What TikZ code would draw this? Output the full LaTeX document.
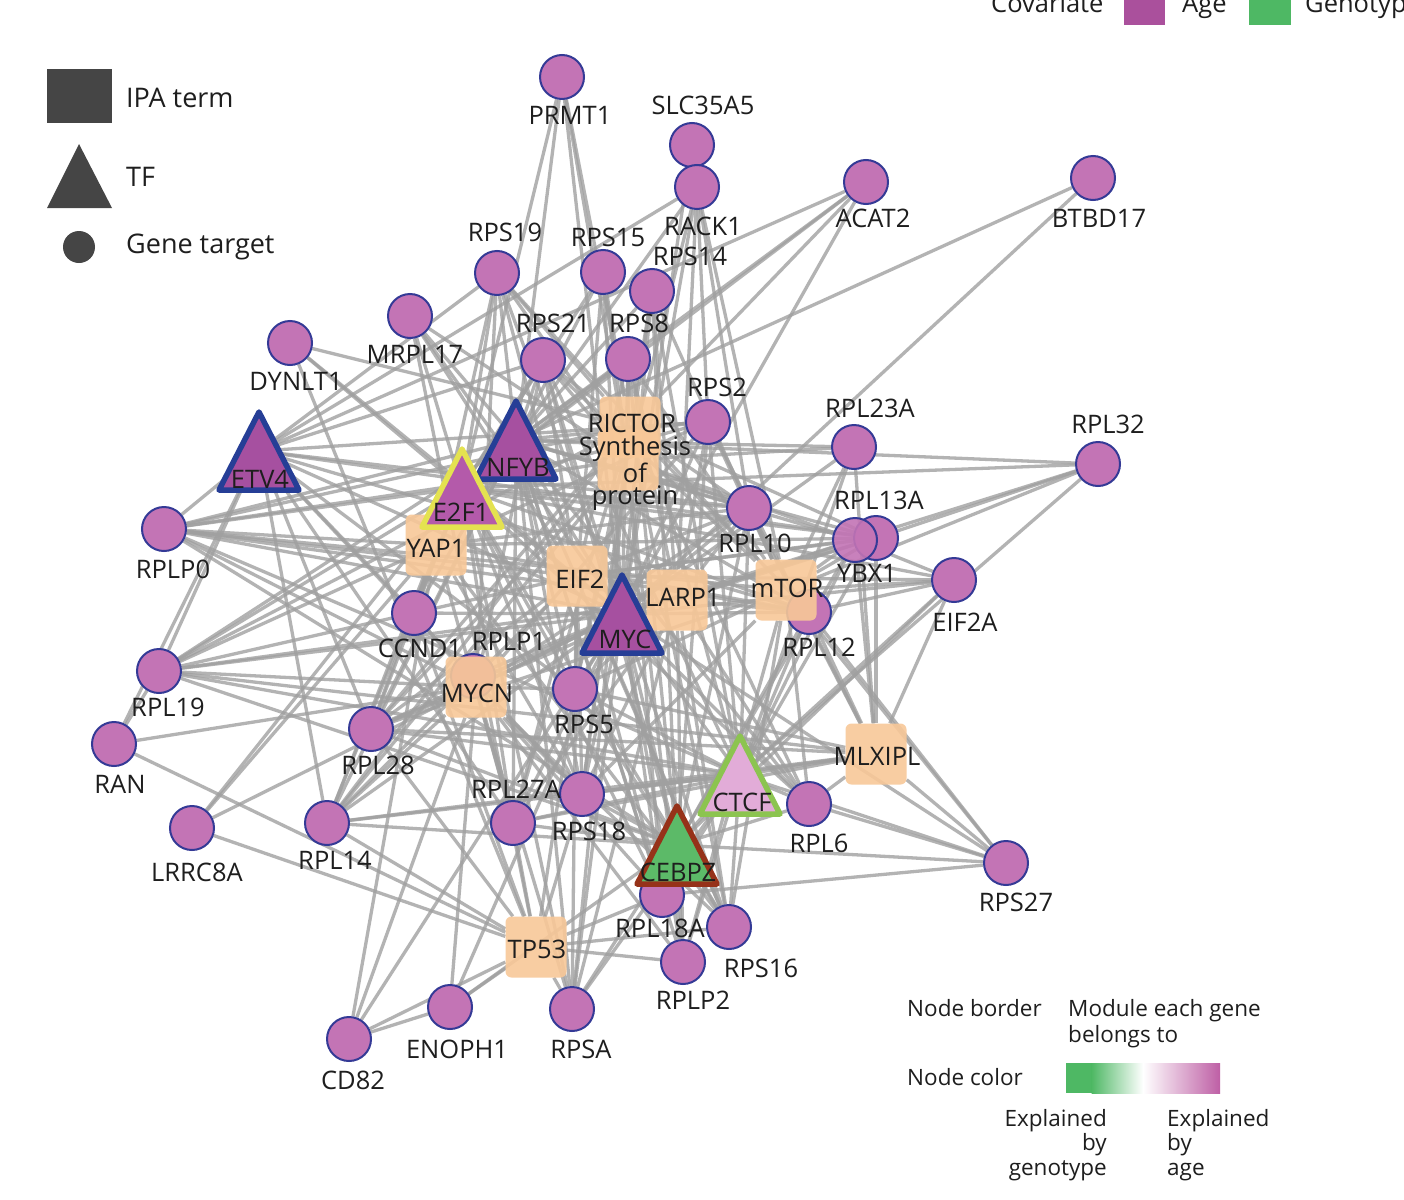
\documentclass[tikz,border=0pt]{standalone}
\usepackage{fontspec}
\setmainfont{Open Sans}
\pgfdeclarelayer{bg}
\pgfdeclarelayer{edges}
\pgfsetlayers{bg,edges,main}
\definecolor{genefill}{RGB}{195,116,181}
\definecolor{genebd}{RGB}{52,58,150}
\definecolor{tfage}{RGB}{166,80,160}
\definecolor{tfe2f}{RGB}{180,90,170}
\definecolor{tfblue}{RGB}{38,62,150}
\definecolor{tfyel}{RGB}{228,226,80}
\definecolor{ctcffill}{RGB}{226,172,216}
\definecolor{ctcfbd}{RGB}{140,196,80}
\definecolor{cebfill}{RGB}{92,186,104}
\definecolor{cebbd}{RGB}{150,50,25}
\definecolor{ipafill}{RGB}{248,200,152}
\definecolor{edgec}{RGB}{160,160,160}
\definecolor{legdark}{RGB}{69,69,69}
\definecolor{agec}{RGB}{170,80,156}
\definecolor{genoc}{RGB}{78,184,100}
\definecolor{agegrad}{RGB}{190,95,165}
\definecolor{txtc}{RGB}{30,30,30}
\newcommand\tfdraw[5]{%
  \coordinate (#1) at (#2,#3);
  \draw[shift={(#1)}, line width=5.5, line join=round, draw=#5, fill=#4] (-40,39) -- (0,-39) -- (40,39) -- cycle;}
\begin{document}
\begin{tikzpicture}[x=1pt,y=-1pt,
  genenode/.style={circle, draw=genebd, fill=genefill, line width=2, minimum size=44, inner sep=0},
  ipabox/.style={rectangle, rounded corners=6, fill=ipafill, fill opacity=0.9, minimum size=61, inner sep=0},
  lab/.style={font=\fontsize{25.5}{28}\selectfont, text=txtc, inner sep=0},
  legtxt/.style={font=\fontsize{27}{30}\selectfont, text=txtc, inner sep=0},
  legsmall/.style={font=\fontsize{22.5}{25}\selectfont, text=txtc, inner sep=0},
  edgeline/.style={draw=edgec, line width=3.3, draw opacity=0.8}]
\useasboundingbox (0,0) rectangle (1404,1199);
\begin{pgfonlayer}{bg}
\fill[white] (0,0) rectangle (1404,1199);
\end{pgfonlayer}

% ---------- gene targets ----------
\node[genenode] (prmt) at (562,77) {};
\node[genenode] (slc) at (692,145) {};
\node[genenode] (rack) at (697,187) {};
\node[genenode] (rps19) at (497,273) {};
\node[genenode] (rps15) at (603,272) {};
\node[genenode] (rps14) at (652,291) {};
\node[genenode] (acat) at (866,182) {};
\node[genenode] (btbd) at (1093,178) {};
\node[genenode] (mrpl) at (410,316) {};
\node[genenode] (dynlt) at (290,343) {};
\node[genenode] (rps21) at (543,360) {};
\node[genenode] (rps8) at (628,359) {};
\node[genenode] (rps2) at (708,422) {};
\node[genenode] (rpl23a) at (854,447) {};
\node[genenode] (rpl32) at (1098,464) {};
\node[genenode] (rpl10) at (749,508) {};
\node[genenode] (rpl13a) at (876,538) {};
\node[genenode, fill opacity=0.9] (ybx) at (855,540) {};
\node[genenode] (eif2a) at (954,580) {};
\node[genenode] (rpl12) at (809,612) {};
\node[genenode] (rplp0) at (164,529) {};
\node[genenode] (ccnd) at (414,613) {};
\node[genenode] (rplp1) at (473,676) {};
\node[genenode] (rpl19) at (159,671) {};
\node[genenode] (ran) at (114,744) {};
\node[genenode] (rpl28) at (371,729) {};
\node[genenode] (rps5) at (575,689) {};
\node[genenode] (lrrc) at (192,828) {};
\node[genenode] (rpl14) at (327,823) {};
\node[genenode] (rpl27a) at (513,823) {};
\node[genenode] (rps18) at (582,794) {};
\node[genenode] (rpl6) at (809,804) {};
\node[genenode] (rps27) at (1006,863) {};
\node[genenode] (rpl18a) at (662,895) {};
\node[genenode] (rps16) at (729,927) {};
\node[genenode] (rplp2) at (683,962) {};
\node[genenode] (enoph) at (450,1007) {};
\node[genenode] (rpsa) at (572,1009) {};
\node[genenode] (cd82) at (349,1039) {};

% ---------- IPA terms ----------
\node[ipabox] (rictor) at (630,427) {};
\node[ipabox] (synth) at (628,460) {};
\node[ipabox] (yap) at (436,545) {};
\node[ipabox] (eif2) at (577,576) {};
\node[ipabox] (larp) at (677,600) {};
\node[ipabox] (mtor) at (786,590) {};
\node[ipabox] (mycn) at (476,687) {};
\node[ipabox] (mlxipl) at (876,754) {};
\node[ipabox] (tp53) at (536,947) {};

% ---------- TFs ----------
\tfdraw{etv4}{259}{451}{tfage}{tfblue}
\tfdraw{nfyb}{516}{440}{tfage}{tfblue}
\tfdraw{e2f1}{462}{488}{tfe2f}{tfyel}
\tfdraw{myc}{622}{614}{tfage}{tfblue}
\tfdraw{ctcf}{740}{775}{ctcffill}{ctcfbd}
\tfdraw{cebpz}{677}{845}{cebfill}{cebbd}

% ---------- edges ----------
\begin{pgfonlayer}{edges}
\foreach \h/\lst in {
 myc/{prmt,slc,rack,rps19,rps15,rps14,acat,btbd,mrpl,dynlt,rps21,rps8,rps2,rpl23a,rpl10,rpl13a,ybx,eif2a,rpl12,rplp0,ccnd,rplp1,rpl19,rpl28,rps5,lrrc,rpl14,rpl27a,rps18,rpl6,rps27,rpl18a,rps16,rplp2,enoph,rpsa,cd82},
 nfyb/{prmt,rack,rps19,rps15,rps14,acat,btbd,mrpl,rps21,rps8,rps2,rpl23a,rpl10,rpl13a,ybx,rpl12,rplp0,ccnd,rpl19,rpl28,rps5,rpl14,rpl27a,rps18,rpl6,rpl18a,rps16,rplp2,rpsa,rpl32},
 e2f1/{prmt,rps19,rps15,acat,mrpl,dynlt,rps21,rps8,rps2,rpl10,rpl13a,rpl12,rplp0,ccnd,rpl19,rpl28,rps5,lrrc,rpl14,rpl27a,rps18,rpl6,rpl18a,rps16,rpsa,rpl32,eif2a},
 etv4/{rack,rplp0,rpl19,ran,rpl28,rpl14,rps21,rps19,rps5,rpl10,rpl13a,rps18,rpl27a,rps2,ccnd,rpl12,acat},
 ctcf/{rps2,rps8,rps21,rpl23a,rpl10,rpl13a,ybx,eif2a,rpl12,rplp0,rpl19,rpl28,rps5,rpl14,rpl27a,rps18,rpl6,rps27,rpl18a,rps16,rplp2,rpsa,rpl32,rps14},
 cebpz/{rps14,rps8,rps21,rps2,rpl10,ybx,rpl12,rplp0,rpl19,rpl28,rps5,rpl14,rpl27a,rps18,rpl6,rps27,rpl18a,rps16,rplp2,rpsa,enoph,eif2a},
 rictor/{prmt,acat,dynlt,rps19,rps15,rps14,rps21,rps8,rps2,rpl10,rpl13a,rpl12,rps5,rps18,rpl27a,rpl28,rpl14,rplp0,rpl19,rpsa,rpl6,rps16},
 synth/{prmt,rack,mrpl,rps19,rps15,rps14,rps21,rps8,rpl23a,rpl10,ybx,rps5,rpl18a,rplp2,rpl14,rplp0,rpl28,rps18},
 yap/{rps19,rps21,rplp0,rpl19,rpl28,rpl14,ccnd,rps18,rpl27a,cd82,lrrc,rps2,rpl10,rpl13a,rpl12,rps16},
 eif2/{mrpl,rps19,rps21,rps8,rps15,rpl10,rpl13a,ybx,rpl12,rplp0,rpl19,rpl28,rps5,rps18,rpl27a,rpl14,rpl18a,rps16,rpsa,eif2a},
 larp/{rps8,rps14,rps2,rack,rpl10,rpl13a,ybx,rpl12,rps5,rps18,rpl27a,rpl28,rpl19,rplp0,rpl6,rps16,rplp2,rpsa},
 mtor/{rpl32,ybx,rpl13a,eif2a,rpl23a,rps2,rps8,rps14,rack,rps21,rps19,rpl10,rps5,rps18,rpl6,rps27,rplp2,rps16,rpl28,rplp0},
 mycn/{ccnd,rplp1,rpl19,ran,rpl28,rpl14,rps5,rpl27a,rps18,rpl18a,rps16,rplp2,rpsa,enoph,cd82,rplp0,rps21,rps19,rpl10,rps2},
 mlxipl/{rpl6,rps27,rpl12,ybx,rpl13a,eif2a,rps2,rpl10,rps18,rpl27a,rps5,rpl28,rpl14,rpl19,rpl23a},
 tp53/{enoph,cd82,rpsa,ran,rplp2,rpl18a,rps16,rps18,rpl27a,rpl14,rpl28,ccnd,rps5,mrpl,dynlt,lrrc},
 rpl32/{ybx,rpl13a},
 eif2a/{ybx,rpl12},
 rps27/{rpl6,rpl12,rpl18a},
 ran/{rpl19},
 cd82/{enoph},
 rack/{slc,rps2,rpl10},
 myc/{nfyb,e2f1,etv4,ctcf,cebpz,mycn,eif2,larp},
 nfyb/{e2f1},
 ctcf/{cebpz,mlxipl},
 e2f1/{yap}}
 {\foreach \t in \lst {\draw[edgeline] (\h) -- (\t);}}
\end{pgfonlayer}

% ---------- labels ----------
\node[lab] (l-prmt) at (570,115) {PRMT1};
\node[lab] (l-slc) at (703,105) {SLC35A5};
\node[lab] (l-rack) at (703,226) {RACK1};
\node[lab] (l-rps19) at (505,232) {RPS19};
\node[lab] (l-rps15) at (608,237) {RPS15};
\node[lab] (l-rps14) at (690,256) {RPS14};
\node[lab] (l-acat) at (873,218) {ACAT2};
\node[lab] (l-btbd) at (1099,218) {BTBD17};
\node[lab] (l-mrpl) at (415,354) {MRPL17};
\node[lab] (l-dynlt) at (296,381) {DYNLT1};
\node[lab] (l-rps21) at (553,323) {RPS21};
\node[lab] (l-rps8) at (639,323) {RPS8};
\node[lab] (l-rps2) at (717,387) {RPS2};
\node[lab] (l-rpl23a) at (870,408) {RPL23A};
\node[lab] (l-rpl32) at (1108,424) {RPL32};
\node[lab] (l-rpl10) at (755,543) {RPL10};
\node[lab] (l-rpl13a) at (879,500) {RPL13A};
\node[lab] (l-ybx) at (867,573) {YBX1};
\node[lab] (l-eif2a) at (965,622) {EIF2A};
\node[lab] (l-rpl12) at (819,647) {RPL12};
\node[lab] (l-rplp0) at (173,569) {RPLP0};
\node[lab] (l-ccnd) at (420,648) {CCND1};
\node[lab] (l-rplp1) at (509,641) {RPLP1};
\node[lab] (l-rpl19) at (168,707) {RPL19};
\node[lab] (l-ran) at (120,784) {RAN};
\node[lab] (l-rpl28) at (378,765) {RPL28};
\node[lab] (l-rps5) at (584,724) {RPS5};
\node[lab] (l-lrrc) at (197,872) {LRRC8A};
\node[lab] (l-rpl14) at (335,860) {RPL14};
\node[lab] (l-rpl27a) at (516,789) {RPL27A};
\node[lab] (l-rps18) at (589,831) {RPS18};
\node[lab] (l-rpl6) at (819,843) {RPL6};
\node[lab] (l-rps27) at (1016,902) {RPS27};
\node[lab] (l-rpl18a) at (660,928) {RPL18A};
\node[lab] (l-rps16) at (761,968) {RPS16};
\node[lab] (l-rplp2) at (693,1000) {RPLP2};
\node[lab] (l-enoph) at (457,1049) {ENOPH1};
\node[lab] (l-rpsa) at (581,1049) {RPSA};
\node[lab] (l-cd82) at (353,1080) {CD82};

\node[lab] (l-rictor) at (632,423) {RICTOR};
\node[lab, align=center, font=\fontsize{25.5}{22.5}\selectfont, anchor=north] (l-synth) at (635,436) {Synthesis\\of\\protein};
\node[lab] (l-yap) at (436,548) {YAP1};
\node[lab] (l-eif2) at (580,579) {EIF2};
\node[lab] (l-larp) at (683,597) {LARP1};
\node[lab] (l-mtor) at (787,588) {mTOR};
\node[lab] (l-mycn) at (477,693) {MYCN};
\node[lab] (l-mlxipl) at (877,756) {MLXIPL};
\node[lab] (l-tp53) at (537,949) {TP53};

\node[lab] (l-etv4) at (260,479) {ETV4};
\node[lab] (l-nfyb) at (518,467) {NFYB};
\node[lab] (l-e2f1) at (461,512) {E2F1};
\node[lab] (l-myc) at (625,639) {MYC};
\node[lab] (l-ctcf) at (742,802) {CTCF};
\node[lab] (l-cebpz) at (678,872) {CEBPZ};

% ---------- legend: shapes ----------
\fill[legdark] (47,69) rectangle (112,123);
\fill[legdark] (47,208) -- (79,144) -- (112,208) -- cycle;
\node[circle, fill=legdark, minimum size=32, inner sep=0] (lg-dot) at (79,247) {};
\node[legtxt, anchor=west] (lg-ipa) at (126,98) {IPA term};
\node[legtxt, anchor=west] (lg-tf) at (126,177) {TF};
\node[legtxt, anchor=west] (lg-gene) at (126,247) {Gene target};

% ---------- legend: covariate (cut by the top edge, as in the reference) ----------
\node[lab, anchor=base west] (cov) at (991,13) {Covariate};
\fill[agec] (1124,-5) rectangle (1165,25);
\node[lab, anchor=base west] (cov-age) at (1182,13) {Age};
\fill[genoc] (1249,-5) rectangle (1291,25);
\node[lab, anchor=base west] (cov-geno) at (1305,13) {Genotype};

% ---------- legend: border / colour ----------
\node[legsmall, anchor=base west] (nb) at (907,1016) {Node border};
\node[legsmall, anchor=base west] (nb1) at (1068,1016) {Module each gene};
\node[legsmall, anchor=base west] (nb2) at (1068,1042) {belongs to};
\node[legsmall, anchor=base west] (nc) at (907,1085) {Node color};
\fill[genoc] (1066,1063) rectangle (1092,1093);
\shade[left color=genoc, right color=white] (1091.5,1063) rectangle (1143,1093);
\shade[left color=white, right color=agegrad] (1143,1063) rectangle (1220,1093);
\node[legsmall, anchor=base east] (eg1) at (1107,1126) {Explained};
\node[legsmall, anchor=base east] (eg2) at (1107,1150) {by};
\node[legsmall, anchor=base east] (eg3) at (1107,1175) {genotype};
\node[legsmall, anchor=base west] (ea1) at (1167,1126) {Explained};
\node[legsmall, anchor=base west] (ea2) at (1167,1150) {by};
\node[legsmall, anchor=base west] (ea3) at (1167,1175) {age};
\end{tikzpicture}
\end{document}
